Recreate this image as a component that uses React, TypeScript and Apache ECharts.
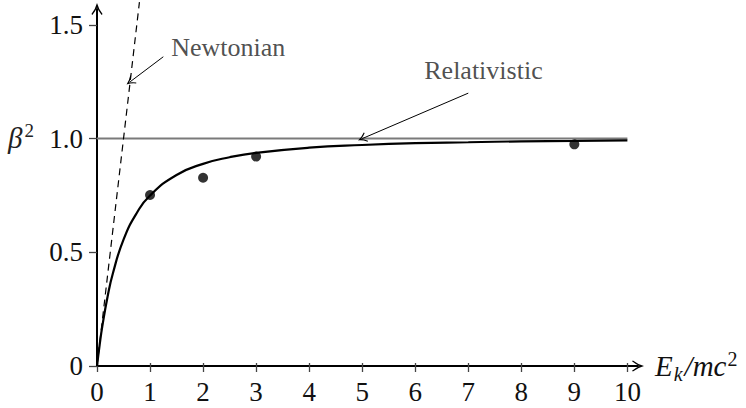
import React, { useEffect, useRef } from "react";
import * as echarts from "echarts";

const xTicks = [0, 1, 2, 3, 4, 5, 6, 7, 8, 9, 10];
const yTicks = [0, 0.5, 1.0, 1.5];

const newtonX = [0, 0.8];
const newtonY = [0, 1.6];

const relX = [0, 0.05, 0.1, 0.2, 0.3, 0.5, 0.75, 1, 1.5, 2, 2.5, 3, 4, 5, 6, 7, 8, 9, 10];
const relY = [0, 0.093, 0.174, 0.306, 0.408, 0.556, 0.673, 0.75, 0.84, 0.889, 0.918, 0.9375, 0.96, 0.972, 0.98, 0.984, 0.988, 0.99, 0.992];

const measuredX = [1, 2, 3, 9];
const measuredY = [0.752, 0.828, 0.921, 0.975];

const limitX = [0, 10];
const limitY = [1, 1];

const labelNames = ["Newtonian", "Relativistic"];
const labelX = [1.4, 6.17];
const labelY = [1.4, 1.298];
const arrowFromX = [1.25, 7.0];
const arrowFromY = [1.36, 1.2];
const arrowToX = [0.625, 5.0];
const arrowToY = [1.25, 1.0];

const CHEVRON = "path://M0,10 Q3.5,5.5 5,0 Q6.5,5.5 10,10 L9.2,10.8 Q6.3,7.2 5,4 Q3.7,7.2 0.8,10.8 Z";
const FONT = "Liberation Serif";

export default function App() {
  const ref = useRef<HTMLDivElement>(null);
  useEffect(() => {
    if (!ref.current) return;
    const chart = echarts.init(ref.current, null, { renderer: "svg" });
    const zip = (xs: number[], ys: number[]) => xs.map((x, i) => [x, ys[i]]);
    const option: any = {
      animation: false,
      grid: { left: 97, right: 108, top: 9, bottom: 42, containLabel: false },
      xAxis: [
        {
          type: "value",
          min: 0,
          max: 10.2,
          splitLine: { show: false },
          axisLine: { show: true, lineStyle: { color: "#000", width: 2 }, symbol: ["none", CHEVRON], symbolSize: [15, 12], symbolOffset: [0, 0] },
          axisTick: { show: true, length: 6, lineStyle: { color: "#444", width: 1.3 }, customValues: xTicks },
          axisLabel: { customValues: xTicks, margin: 12, fontFamily: FONT, fontSize: 27, color: "#111", formatter: (v: number) => String(v) },
          name: "{i|E}{sub|k}{i|/mc}{sup|2}",
          nameLocation: "end",
          nameGap: 17,
          nameTextStyle: {
            fontFamily: FONT,
            rich: {
              i: { fontFamily: FONT, fontStyle: "italic", fontSize: 29, color: "#111", verticalAlign: "middle" },
              sub: { fontFamily: FONT, fontStyle: "italic", fontSize: 20, color: "#111", padding: [15, 2, 0, 1] },
              sup: { fontFamily: FONT, fontSize: 20, color: "#111", padding: [0, 0, 14, 1] },
            },
          },
        },
        {
          type: "value",
          min: 0,
          max: 10.2,
          position: "bottom",
          splitLine: { show: false },
          axisLine: { show: false },
          axisTick: { show: true, inside: true, length: 3, lineStyle: { color: "#444", width: 1.3 }, customValues: xTicks },
          axisLabel: { show: false },
        },
      ],
      yAxis: {
        type: "value",
        min: 0,
        max: 1.57,
        splitLine: { show: false },
        axisLine: { show: true, lineStyle: { color: "#000", width: 2 }, symbol: ["none", CHEVRON], symbolSize: [15, 12], symbolOffset: [0, 0] },
        axisTick: { show: true, length: 8, lineStyle: { color: "#444", width: 1.3 }, customValues: yTicks },
        axisLabel: {
          customValues: yTicks,
          margin: 14,
          fontFamily: FONT,
          fontSize: 27,
          color: "#111",
          formatter: (v: number) => (v === 0 ? "0" : v.toFixed(1)),
        },
      },
      graphic: [
        {
          type: "text",
          left: 8,
          top: 121,
          style: {
            text: "{b|β}{s|2}",
            rich: {
              b: { fontFamily: FONT, fontStyle: "italic", fontSize: 29, fill: "#222" },
              s: { fontFamily: FONT, fontSize: 19, fill: "#222", padding: [0, 0, 14, 2] },
            },
          },
        },
      ],
      series: [
        {
          type: "line",
          data: zip(limitX, limitY),
          symbol: "none",
          lineStyle: { color: "#7a7a7a", width: 2 },
          z: 2,
        },
        {
          type: "line",
          data: zip(newtonX, newtonY),
          symbol: "none",
          clip: false,
          lineStyle: { color: "#000", width: 1.2, type: [7, 5] },
          z: 3,
        },
        {
          type: "line",
          data: zip(relX, relY),
          symbol: "none",
          smooth: true,
          lineStyle: { color: "#000", width: 2.2 },
          z: 4,
        },
        {
          type: "scatter",
          data: zip(measuredX, measuredY),
          symbol: "circle",
          symbolSize: 10,
          itemStyle: { color: "#000" },
          z: 5,
        },
        {
          type: "scatter",
          data: labelNames.map((n, i) => ({ value: [labelX[i], labelY[i]], name: n })),
          symbolSize: 0,
          silent: true,
          label: {
            show: true,
            position: "right",
            distance: 0,
            formatter: (p: any) => p.name,
            fontFamily: FONT,
            fontSize: 26,
            color: "#222",
          },
          markLine: {
            silent: true,
            symbol: ["none", CHEVRON],
            symbolSize: [10, 9],
            label: { show: false },
            lineStyle: { color: "#000", width: 1, type: "solid" },
            data: arrowFromX.map((x, i) => [
              { coord: [x, arrowFromY[i]] },
              { coord: [arrowToX[i], arrowToY[i]] },
            ]),
          },
          z: 6,
        },
      ],
    };
    chart.setOption(option);
    return () => chart.dispose();
  }, []);
  return <div ref={ref} style={{ position: "absolute", left: 0, top: 0, width: 746, height: 408 }} />;
}
